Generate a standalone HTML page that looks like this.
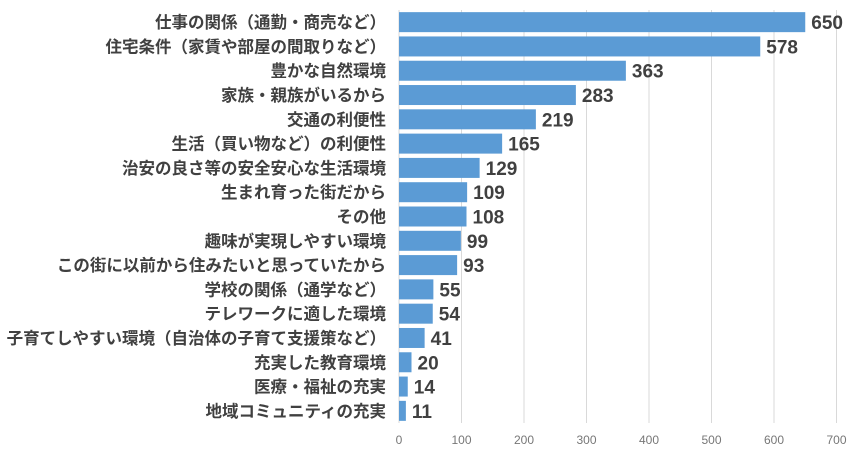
<!DOCTYPE html>
<html><head><meta charset="utf-8"><style>
body{margin:0;background:#fff;width:858px;height:455px;overflow:hidden}
svg{font-family:"Liberation Sans","Noto Sans CJK JP",sans-serif}
</style></head><body>
<svg id="chart" width="858" height="455" xmlns="http://www.w3.org/2000/svg"></svg>
<script>
const categories=["仕事の関係（通勤・商売など）","住宅条件（家賃や部屋の間取りなど）","豊かな自然環境","家族・親族がいるから","交通の利便性","生活（買い物など）の利便性","治安の良さ等の安全安心な生活環境","生まれ育った街だから","その他","趣味が実現しやすい環境","この街に以前から住みたいと思っていたから","学校の関係（通学など）","テレワークに適した環境","子育てしやすい環境（自治体の子育て支援策など）","充実した教育環境","医療・福祉の充実","地域コミュニティの充実"];
const values=[650,578,363,283,219,165,129,109,108,99,93,55,54,41,20,14,11];
const ticks=[0,100,200,300,400,500,600,700];
const svg=document.getElementById('chart');
const NS='http://www.w3.org/2000/svg';
const x0=399,xs=0.625,yTop=10,yBot=423,n=categories.length;
const step=(yBot-yTop)/n;
const X=v=>x0+v*xs;
const Y=i=>yTop+step*i+step/2;
function mk(t,a){const e=document.createElementNS(NS,t);for(const k in a)e.setAttribute(k,a[k]);svg.appendChild(e);return e;}
ticks.forEach(t=>{
 const l=mk('line',{x1:X(t),x2:X(t),y1:yTop,y2:yBot,stroke:'#d9d9d9','stroke-width':1});
 
 
 const tx=mk('text',{x:X(t),y:444,'text-anchor':'middle','font-size':12,fill:'#777'});
 tx.textContent=t;
 
 
});
categories.forEach((c,i)=>{
 const y=Y(i);
 const lab=mk('text',{x:386,y:y+6,'text-anchor':'end','font-size':16.5,'font-weight':'bold',fill:'#404040'});
 lab.textContent=c;
 
 
 const b=mk('rect',{x:X(0),y:y-10,width:X(values[i])-X(0),height:20,fill:'#5b9bd5'});
 
 
 const v=mk('text',{x:X(values[i])+6,y:y+7,'font-size':19,'font-weight':'bold',fill:'#404040'});
 v.textContent=values[i];
 
 
});
</script>
</body></html>
